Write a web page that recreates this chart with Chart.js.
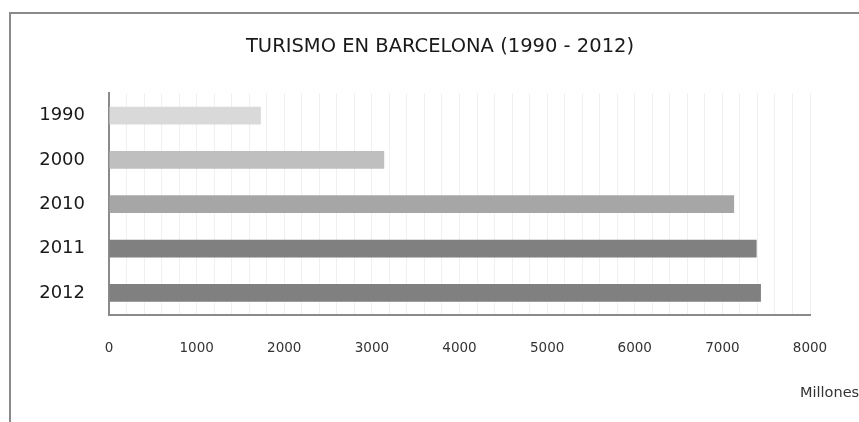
<!DOCTYPE html>
<html>
<head>
<meta charset="utf-8">
<script src="https://cdn.jsdelivr.net/npm/chart.js@4.4.0/dist/chart.umd.min.js"></script>
<style>
	html, body { margin: 0; padding: 0; background: #fff; }
	#wrap { width: 859px; height: 422px; position: relative; }
</style>
</head>
<body>
<div id="wrap"><canvas id="chart" width="859" height="422"></canvas></div>
<script>
// Turistas por año (miles)
const years = ["1990", "2000", "2010", "2011", "2012"];
const tourists = [1733, 3141, 7134, 7391, 7440];
const barColors = ["#d9d9d9", "#bfbfbf", "#a6a6a6", "#808080", "#808080"];
const xMax = 8000;
const xStep = 200; // rejilla cada 200, etiquetas cada 1000

const FONT = "'DejaVu Sans', sans-serif";

// Marco del gráfico y texto de unidades
const framePlugin = {
	id: "frame",
	beforeDraw(chart) {
		const ctx = chart.ctx;
		ctx.save();
		ctx.fillStyle = "#fff";
		ctx.fillRect(0, 0, chart.width, chart.height);
		ctx.strokeStyle = "#8a8a8a";
		ctx.lineWidth = 2;
		ctx.beginPath();
		ctx.moveTo(10, chart.height);
		ctx.lineTo(10, 13);
		ctx.lineTo(chart.width, 13);
		ctx.stroke();
		ctx.restore();
	},
	afterDraw(chart) {
		const ctx = chart.ctx;
		ctx.save();
		ctx.fillStyle = "#333";
		ctx.font = "14.5px " + FONT;
		ctx.textBaseline = "middle";
		ctx.textAlign = "left";
		ctx.fillText("Millones", 800, 393);
		ctx.restore();
	},
};

new Chart(document.getElementById("chart"), {
	type: "bar",
	data: {
		labels: years,
		datasets: [
			{
				data: tourists,
				backgroundColor: barColors,
				borderWidth: 0,
				barPercentage: 0.4,
				categoryPercentage: 1,
			},
		],
	},
	options: {
		indexAxis: "y",
		responsive: false,
		animation: false,
		layout: { padding: { left: 21, right: 0, top: 0, bottom: 0 } },
		plugins: {
			legend: { display: false },
			tooltip: { enabled: false },
			title: {
				display: true,
				text: "TURISMO EN BARCELONA (1990 - 2012)",
				color: "#1a1a1a",
				font: { family: FONT, size: 19.5, weight: "normal", lineHeight: 1.2 },
				padding: { top: 35, bottom: 35 },
			},
		},
		scales: {
			x: {
				min: 0,
				max: xMax,
				ticks: {
					stepSize: xStep,
					autoSkip: false,
					maxRotation: 0,
					padding: 25,
					color: "#333",
					font: { family: FONT, size: 13.5 },
					callback: (v) => (v % 1000 === 0 ? String(v) : ""),
				},
				grid: { color: "#f0f0f0", lineWidth: 1, drawTicks: false },
				border: { color: "#8a8a8a", width: 2 },
				afterFit(scale) {
					scale.height = 107;
				},
			},
			y: {
				ticks: {
					padding: 24,
					color: "#1a1a1a",
					font: { family: FONT, size: 18 },
				},
				grid: { display: false, drawTicks: false },
				border: { color: "#8a8a8a", width: 2 },
				afterFit(scale) {
					scale.width = 88;
				},
			},
			// margen derecho vacío para que el área útil acabe en 8000
			margen: {
				type: "linear",
				position: "right",
				ticks: { display: false },
				grid: { display: false, drawTicks: false },
				border: { display: false },
				afterFit(scale) {
					scale.width = 49;
				},
			},
		},
	},
	plugins: [framePlugin],
});
</script>
</body>
</html>
